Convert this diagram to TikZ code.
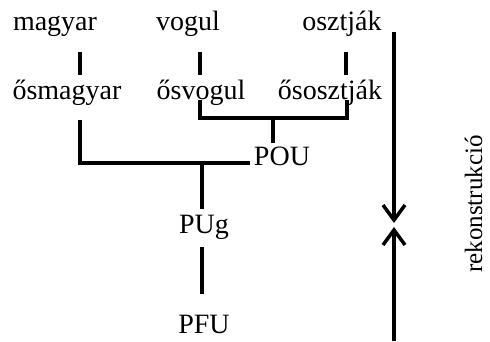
\documentclass[tikz,border=0pt]{standalone}
\usepackage{fontspec}
\setmainfont{Liberation Serif}
\usetikzlibrary{arrows.meta}
\begin{document}
\begin{tikzpicture}[x=1pt,y=-1pt,
  lbl/.style={inner sep=0pt,anchor=base,font=\fontsize{28}{30}\selectfont},
  ln/.style={line width=3.5pt},
  arr/.style={line width=3.5pt,-{Straight Barb[length=15pt,width=22pt,line width=3.5pt]}}]
\useasboundingbox[fill=white] (0,0) rectangle (490,341);
\node[lbl] (magyar) at (55,30) {magyar};
\node[lbl] (vogul) at (188,30) {vogul};
\node[lbl] (osztjak) at (342,30) {osztják};
\node[lbl] (osmagyar) at (67,99) {ősmagyar};
\node[lbl] (osvogul) at (201,99) {ősvogul};
\node[lbl] (ososztjak) at (330,99) {ősosztják};
\node[lbl] (POU) at (282,165) {POU};
\node[lbl] (PUg) at (204,233) {PUg};
\node[lbl] (PFU) at (204,333) {PFU};
\node[inner sep=0pt,anchor=base,rotate=90,font=\fontsize{25}{27}\selectfont] (rek) at (482,204) {rekonstrukció};
% ticks
\draw[ln] (80,52) -- (80,75);
\draw[ln] (200,52) -- (200,75);
\draw[ln] (346,52) -- (346,75);
% brackets
\draw[ln] (200,100) -- (200,118) -- (347,118) -- (347,100);
\draw[ln] (273,118) -- (273,143);
\draw[ln] (80,120) -- (80,163) -- (250,163);
\draw[ln] (202,163) -- (202,209);
\draw[ln] (202,247) -- (202,294);
% arrows
\coordinate (atop) at (394,32);
\coordinate (abot) at (394,341);
\coordinate (t1) at (394,223);
\coordinate (t2) at (394,227);
\draw[arr] (atop) -- (t1);
\draw[arr] (abot) -- (t2);
\end{tikzpicture}
\end{document}
